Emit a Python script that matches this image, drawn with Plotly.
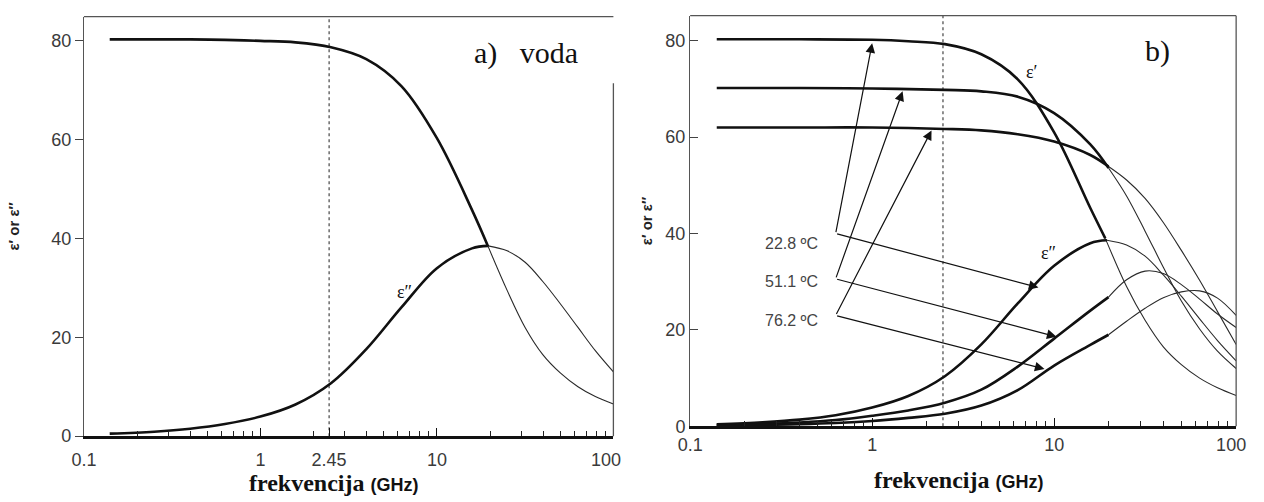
import numpy as np
import plotly.graph_objects as go

# ---------------- data: panel a) water ----------------
a_f_e1 = [0.14, 0.25, 0.4, 0.63, 1.0, 1.58, 2.51, 3.98, 6.31, 10, 15.8, 19.5]
a_e1 = [80.3, 80.3, 80.3, 80.2, 80.0, 79.7, 78.7, 76.3, 70.8, 60.3, 45.8, 38.4]
a_f_e1_ext = [19.5, 25, 31.6, 39.8, 50, 63, 79, 100]
a_e1_ext = [38.4, 29.5, 22.0, 16.5, 12.8, 10.0, 8.0, 6.5]

a_f_e2 = [0.14, 0.25, 0.4, 0.63, 1.0, 1.58, 2.51, 3.98, 6.31, 10, 15.8, 19.5]
a_e2 = [0.5, 0.9, 1.5, 2.45, 3.95, 6.4, 10.7, 17.6, 26.1, 34.0, 38.0, 38.5]
a_f_e2_ext = [19.5, 25, 31.6, 39.8, 50, 63, 79, 100]
a_e2_ext = [38.5, 37.5, 35.2, 31.3, 26.8, 22.0, 17.3, 13.0]

# ---------------- data: panel b) three temperatures ----------------
b_f_e1_228 = [0.14, 0.4, 1.0, 1.58, 2.51, 3.98, 6.31, 10, 15.8, 19.1]
b_e1_228 = [80.3, 80.3, 80.2, 79.9, 79.3, 77.2, 72.0, 61.0, 45.3, 39.0]
b_f_e1_228_ext = [19.1, 25, 31.6, 39.8, 50, 63, 79, 100]
b_e1_228_ext = [39.0, 29.0, 22.0, 16.5, 12.8, 10.0, 8.0, 6.4]

b_f_e1_511 = [0.14, 0.4, 1.0, 2.51, 3.98, 6.31, 10, 15.8, 19.9]
b_e1_511 = [70.2, 70.2, 70.1, 69.8, 69.5, 68.4, 65.0, 58.5, 53.6]
b_f_e1_511_ext = [19.9, 25, 31.6, 39.8, 50, 63, 79, 100]
b_e1_511_ext = [53.6, 47.8, 40.5, 33.0, 26.0, 20.2, 15.6, 12.0]

b_f_e1_762 = [0.14, 0.4, 1.0, 2.51, 3.98, 6.31, 10, 15.8, 19.9]
b_e1_762 = [62.0, 62.0, 62.0, 61.7, 61.4, 60.6, 59.1, 56.3, 53.9]
b_f_e1_762_ext = [19.9, 25, 31.6, 39.8, 50, 63, 79, 100]
b_e1_762_ext = [53.9, 51.1, 47.3, 42.3, 36.5, 30.3, 23.8, 17.0]

b_f_e2_228 = [0.14, 0.25, 0.4, 0.63, 1.0, 1.58, 2.51, 3.98, 6.31, 10, 15.8, 19.5]
b_e2_228 = [0.4, 0.85, 1.4, 2.3, 3.9, 6.3, 10.4, 17.0, 25.5, 33.3, 38.0, 38.6]
b_f_e2_228_ext = [19.5, 25, 31.6, 39.8, 50, 63, 79, 100]
b_e2_228_ext = [38.6, 37.6, 35.3, 31.4, 27.0, 22.3, 17.8, 13.6]

b_f_e2_511 = [0.14, 0.25, 0.4, 0.63, 1.0, 1.58, 2.51, 3.98, 6.31, 10, 15.8, 19.9]
b_e2_511 = [0.3, 0.5, 0.8, 1.3, 2.2, 3.3, 4.9, 7.6, 12.4, 18.2, 24.0, 26.8]
b_f_e2_511_ext = [19.9, 25, 31.6, 39.8, 50, 63, 79, 100]
b_e2_511_ext = [26.8, 30.4, 32.2, 31.7, 29.4, 26.4, 23.3, 20.5]

b_f_e2_762 = [0.14, 0.25, 0.4, 0.63, 1.0, 1.58, 2.51, 3.98, 6.31, 10, 15.8, 19.9]
b_e2_762 = [0.15, 0.28, 0.45, 0.7, 1.1, 1.75, 2.6, 4.3, 7.5, 12.6, 16.9, 19.0]
b_f_e2_762_ext = [19.9, 25, 31.6, 39.8, 50, 63, 79, 100]
b_e2_762_ext = [19.0, 21.8, 24.5, 26.7, 27.9, 28.1, 26.6, 23.0]

# arrows / labels in panel b
temp_labels = ["22.8 ºC", "51.1 ºC", "76.2 ºC"]
label_f = [0.52, 0.52, 0.52]
label_v = [38.0, 30.1, 22.0]
vertex_f = [0.63, 0.63, 0.63]
vertex_v = [40.0, 30.6, 23.0]
tip1_f = [1.0, 1.47, 2.12]
tip1_v = [79.5, 69.5, 61.4]
tip2_f = [8.2, 10.3, 8.85]
tip2_v = [28.8, 18.6, 11.9]

mark_f = 2.45
x_ticks = [0.1, 1, 10, 100]
x_ticks_a = [0.1, 1, 2.45, 10, 100]
y_ticks = [0, 20, 40, 60, 80]
minor_vals = [m * d for d in (0.1, 1, 10) for m in range(2, 10)]

W, H = 1264, 502
A_X = [73 / W, 618 / W]
A_Y = [1 - 445 / H, 1 - 17 / H]
B_X = [697 / W, 1259 / W]
B_Y = [1 - 435 / H, 1 - 16 / H]
A_YMAX = 84.9
B_YMAX = 85.2

THICK = dict(color="#111111", width=2.6)
THIN = dict(color="#2a2a2a", width=1.1)

fig = go.Figure()


def add_line(f, v, line, xa, ya):
    fig.add_trace(go.Scatter(x=f, y=v, mode="lines", line=dict(shape="spline", smoothing=1.0, **line),
                             xaxis=xa, yaxis=ya, hoverinfo="skip", showlegend=False))


for xa, ya, top in (("x", "y", A_YMAX), ("x2", "y2", B_YMAX)):
    fig.add_trace(go.Scatter(x=[mark_f, mark_f], y=[0, top], mode="lines",
                             line=dict(color="#333333", width=1.1, dash="dot"),
                             xaxis=xa, yaxis=ya, hoverinfo="skip", showlegend=False))

add_line(a_f_e1_ext, a_e1_ext, THIN, "x", "y")
add_line(a_f_e2_ext, a_e2_ext, THIN, "x", "y")
add_line(a_f_e1, a_e1, THICK, "x", "y")
add_line(a_f_e2, a_e2, THICK, "x", "y")

for f, v in ((b_f_e1_228_ext, b_e1_228_ext), (b_f_e1_511_ext, b_e1_511_ext), (b_f_e1_762_ext, b_e1_762_ext),
             (b_f_e2_228_ext, b_e2_228_ext), (b_f_e2_511_ext, b_e2_511_ext), (b_f_e2_762_ext, b_e2_762_ext)):
    add_line(f, v, THIN, "x2", "y2")
for f, v in ((b_f_e1_228, b_e1_228), (b_f_e1_511, b_e1_511), (b_f_e1_762, b_e1_762),
             (b_f_e2_228, b_e2_228), (b_f_e2_511, b_e2_511), (b_f_e2_762, b_e2_762)):
    add_line(f, v, THICK, "x2", "y2")

serif = "Liberation Serif, Times New Roman, serif"
sans = "Liberation Sans, Arial, sans-serif"
tickfont = dict(family=sans, size=18, color="#3a3a3a")


def fmt_tick(t, pad):
    s = "%g" % t
    return s + "\u00a0" * pad if t == 100 else s


def xaxis_style(domain, tickvals, anchor, pad, standoff):
    return dict(domain=domain, type="log", range=[-1, 2], anchor=anchor,
                tickmode="array", tickvals=tickvals, ticktext=[fmt_tick(t, pad) for t in tickvals],
                ticks="inside", ticklen=8, tickwidth=1.4, tickcolor="#111",
                minor=dict(tickmode="array", tickvals=minor_vals, ticks="inside", ticklen=5,
                           tickwidth=1.2, tickcolor="#222", showgrid=False),
                showline=True, linewidth=3, linecolor="#111", showgrid=False, zeroline=False,
                tickfont=tickfont, ticklabelstandoff=standoff, fixedrange=True)


def yaxis_style(domain, ymax, anchor, ticks, standoff):
    return dict(domain=domain, range=[0, ymax], anchor=anchor,
                tickmode="array", tickvals=y_ticks, ticks=ticks, ticklen=8, tickwidth=1.2,
                tickcolor="#444", showline=True, linewidth=1.3, linecolor="#555",
                showgrid=False, zeroline=False, tickfont=tickfont, fixedrange=True,
                title=dict(text="<b>ε′ or ε″</b>", standoff=standoff,
                           font=dict(family=sans, size=15, color="#222")))


fig.update_layout(
    width=W, height=H, margin=dict(l=0, r=0, t=0, b=0),
    paper_bgcolor="white", plot_bgcolor="white", showlegend=False,
    xaxis=xaxis_style(A_X, x_ticks_a, "y", 3, 5),
    yaxis=yaxis_style(A_Y, A_YMAX, "x", "outside", 27),
    xaxis2=xaxis_style(B_X, x_ticks, "y2", 2, 0),
    yaxis2=yaxis_style(B_Y, B_YMAX, "x2", "inside", 9),
)

frame = dict(color="#555555", width=1.3)
shapes = [
    dict(type="line", xref="x domain", yref="y domain", x0=0, x1=1, y0=1, y1=1, line=frame),
    dict(type="line", xref="x domain", yref="y domain", x0=1, x1=1, y0=0, y1=0.841, line=frame),
    dict(type="line", xref="x2 domain", yref="y2 domain", x0=0, x1=1, y0=1, y1=1, line=frame),
    dict(type="line", xref="x2 domain", yref="y2 domain", x0=1, x1=1, y0=0, y1=1, line=frame),
]
fig.update_layout(shapes=shapes)

ann = []
ann.append(dict(xref="paper", yref="paper", x=472 / W, y=1 - 54 / H, xanchor="left", yanchor="middle",
                text="a)\u00a0\u00a0\u00a0voda", showarrow=False, font=dict(family=serif, size=30, color="#111")))
ann.append(dict(xref="paper", yref="paper", x=1178 / W, y=1 - 52 / H, xanchor="center", yanchor="middle",
                text="b)", showarrow=False, font=dict(family=serif, size=30, color="#111")))

xt = ("<b>frekvencija</b> <span style=\"font-family:Liberation Sans;font-size:18px\"><b>(GHz)</b></span>")
for xc, yc in ((330, 493), (974, 490)):
    ann.append(dict(xref="paper", yref="paper", x=xc / W, y=1 - yc / H, xanchor="center", yanchor="middle",
                    text=xt, showarrow=False, font=dict(family=serif, size=24, color="#111")))

ann.append(dict(xref="x", yref="y", x=np.log10(6.55), y=29.2, text="ε″", showarrow=False,
                font=dict(family=serif, size=18, color="#111")))
ann.append(dict(xref="x2", yref="y2", x=np.log10(7.54), y=73.6, text="ε′", showarrow=False,
                font=dict(family=serif, size=18, color="#111")))
ann.append(dict(xref="x2", yref="y2", x=np.log10(9.3), y=36.0, text="ε″", showarrow=False,
                font=dict(family=serif, size=18, color="#111")))

for i, lab in enumerate(temp_labels):
    ann.append(dict(xref="x2", yref="y2", x=np.log10(label_f[i]), y=label_v[i], xanchor="right",
                    yanchor="middle", text=lab, showarrow=False,
                    font=dict(family=sans, size=16, color="#444")))
    for tf, tv in ((tip1_f[i], tip1_v[i]), (tip2_f[i], tip2_v[i])):
        ann.append(dict(xref="x2", yref="y2", axref="x2", ayref="y2",
                        x=np.log10(tf), y=tv, ax=np.log10(vertex_f[i]), ay=vertex_v[i],
                        text="", showarrow=True, arrowhead=2, arrowsize=1.6, arrowwidth=1.2,
                        arrowcolor="#111", standoff=0, startstandoff=0))

fig.update_layout(annotations=ann)

page_fix = ("document.documentElement.style.margin='0';document.body.style.margin='0';"
            "document.body.style.padding='0';document.body.style.overflow='hidden';"
            "document.documentElement.style.overflow='hidden';")
fig.write_html("out.html", post_script=page_fix, config={"displayModeBar": False})
